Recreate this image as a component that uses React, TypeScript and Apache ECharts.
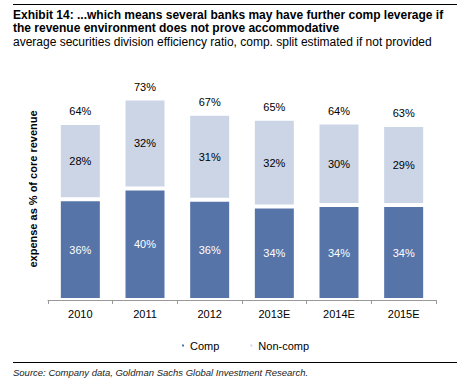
import React, { useEffect, useRef } from "react";
import * as echarts from "echarts";

const categories = ["2010", "2011", "2012", "2013E", "2014E", "2015E"];
const compValues = [36.3, 40.2, 36.1, 33.7, 34.2, 34.2];
const nonCompValues = [27.5, 32.4, 31.0, 31.6, 29.8, 28.9];
const titleLine1 = "Exhibit 14: ...which means several banks may have further comp leverage if";
const titleLine2 = "the revenue environment does not prove accommodative";
const subtitle = "average securities division efficiency ratio, comp. split estimated if not provided";
const sourceText = "Source: Company data, Goldman Sachs Global Investment Research.";

const FONT = "'Liberation Sans', Arial, Helvetica, sans-serif";

export default function App() {
  const ref = useRef<HTMLDivElement>(null);
  useEffect(() => {
    document.body.style.margin = "0";
    const chart = echarts.init(ref.current!, null, { renderer: "svg" });
    const totals = compValues.map((v, i) => v + nonCompValues[i]);
    chart.setOption({
      animation: false,
      textStyle: { fontFamily: FONT },
      grid: { left: 48, right: 31, top: 78, bottom: 82 },
      legend: {
        data: ["Comp", "Non-comp"],
        left: 175,
        top: 335,
        icon: "rect",
        itemWidth: 4,
        itemHeight: 4,
        itemGap: 29,
        textStyle: { fontSize: 11, color: "#000", fontFamily: FONT },
      },
      xAxis: {
        type: "category",
        data: categories,
        axisLine: { lineStyle: { color: "#999", width: 1 } },
        axisTick: { show: true, length: 4, lineStyle: { color: "#999" } },
        axisLabel: { fontSize: 11, color: "#000", margin: 8, fontFamily: FONT },
      },
      yAxis: {
        type: "value",
        min: 0,
        max: 80,
        axisLine: { show: false },
        axisTick: { show: false },
        axisLabel: { show: false },
        splitLine: { show: false },
        name: "expense as % of core revenue",
        nameLocation: "middle",
        nameGap: 10,
        nameTextStyle: { fontSize: 11, fontWeight: "bold", color: "#000", fontFamily: FONT },
      },
      series: [
        {
          name: "Comp",
          type: "bar",
          stack: "total",
          barWidth: 43,
          data: compValues,
          itemStyle: { color: "#5674a8", borderColor: "#fff", borderWidth: 2 },
          label: {
            show: true,
            position: "inside",
            color: "#fff",
            fontSize: 11,
            fontFamily: FONT,
            formatter: (p: any) => Math.round(p.value) + "%",
          },
        },
        {
          name: "Non-comp",
          type: "bar",
          stack: "total",
          barWidth: 43,
          data: nonCompValues,
          itemStyle: { color: "#cbd5e6", borderColor: "#fff", borderWidth: 2 },
          label: {
            show: true,
            position: "inside",
            color: "#000",
            fontSize: 11,
            fontFamily: FONT,
            formatter: (p: any) => Math.round(p.value) + "%",
          },
        },
        {
          name: "Total",
          type: "scatter",
          data: totals,
          symbol: "circle",
          symbolSize: 2,
          itemStyle: { color: "rgba(255,255,255,0)" },
          label: {
            show: true,
            position: "top",
            distance: 5,
            color: "#000",
            opacity: 1,
            fontSize: 11,
            fontFamily: FONT,
            formatter: (p: any) => Math.round(p.value) + "%",
          },
          emphasis: { disabled: true },
          tooltip: { show: false },
        },
      ],
      graphic: [
        { type: "line", shape: { x1: 13, y1: 4.5, x2: 457, y2: 4.5 }, style: { stroke: "#000", lineWidth: 1 } },
        {
          type: "text",
          x: 13,
          y: 9,
          style: { text: titleLine1, font: `bold 12px ${FONT}`, fill: "#000" },
        },
        {
          type: "text",
          x: 13,
          y: 21.5,
          style: { text: titleLine2, font: `bold 12px ${FONT}`, fill: "#000" },
        },
        {
          type: "text",
          x: 13,
          y: 35.5,
          style: { text: subtitle, font: `12px ${FONT}`, fill: "#000" },
        },
        { type: "line", shape: { x1: 13, y1: 362.5, x2: 457, y2: 362.5 }, style: { stroke: "#000", lineWidth: 1 } },
        {
          type: "text",
          x: 13,
          y: 367,
          style: { text: sourceText, font: `italic 9.5px ${FONT}`, fill: "#222" },
        },
      ],
    });
    return () => chart.dispose();
  }, []);
  return <div ref={ref} style={{ width: 467, height: 382 }} />;
}
